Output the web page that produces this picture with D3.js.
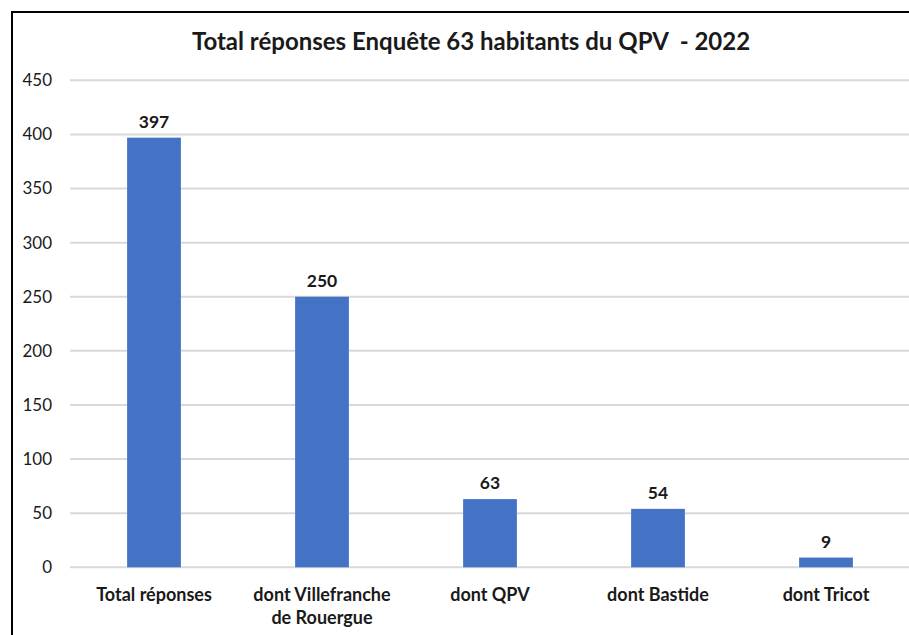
<!DOCTYPE html>
<html>
<head>
<meta charset="utf-8">
<script src="https://cdn.jsdelivr.net/npm/d3@7"></script>
<style>
  html, body { margin: 0; padding: 0; background: #fff; }
  svg { display: block; }
  text { font-family: Lato, "Open Sans", sans-serif; fill: #1a1a1a; }
</style>
</head>
<body>
<script>
// Survey response counts
const categories = [["Total réponses"], ["dont Villefranche", "de Rouergue"], ["dont QPV"], ["dont Bastide"], ["dont Tricot"]];
const values = [397, 250, 63, 54, 9];
const yTicks = [0, 50, 100, 150, 200, 250, 300, 350, 400, 450];
const title = "Total réponses Enquête 63 habitants du QPV  - 2022";

const W = 909, H = 635;
const svg = d3.select("body").append("svg").attr("width", W).attr("height", H);

// Outer frame
svg.append("rect")
  .attr("x", 12).attr("y", 12)
  .attr("width", W).attr("height", H)
  .attr("fill", "none").attr("stroke", "#000").attr("stroke-width", 2);

const plot = { left: 70, right: 910, top: 80.3, bottom: 567.3 };

const x = d3.scaleBand()
  .domain(d3.range(values.length))
  .range([plot.left, plot.right])
  .paddingInner(0.68)
  .paddingOuter(0.34);

const y = d3.scaleLinear()
  .domain([0, 450])
  .range([plot.bottom, plot.top]);

// Gridlines
svg.append("g")
  .selectAll("line")
  .data(yTicks)
  .join("line")
  .attr("x1", plot.left).attr("x2", W)
  .attr("y1", d => y(d)).attr("y2", d => y(d))
  .attr("stroke", "#d9d9d9").attr("stroke-width", 2);

// Y axis labels
const yAxis = d3.axisLeft(y).tickValues(yTicks).tickSize(0).tickPadding(0);
const gy = svg.append("g").attr("transform", "translate(52,0)").call(yAxis);
gy.select(".domain").remove();
gy.selectAll("text")
  .attr("font-size", 17)
  .style("font-family", "Lato, 'Open Sans', sans-serif")
  .attr("fill", "#1a1a1a");

// Bars
svg.append("g")
  .selectAll("rect")
  .data(values)
  .join("rect")
  .attr("x", (d, i) => x(i))
  .attr("width", x.bandwidth())
  .attr("y", d => y(d))
  .attr("height", d => y(0) - y(d))
  .attr("fill", "#4472C4");

// Value labels
svg.append("g")
  .selectAll("text")
  .data(values)
  .join("text")
  .attr("x", (d, i) => x(i) + x.bandwidth() / 2)
  .attr("y", d => y(d) - 10)
  .attr("text-anchor", "middle")
  .attr("font-size", 17.5)
  .attr("font-weight", "bold")
  .text(d => d);

// Category labels
const cat = svg.append("g")
  .selectAll("text")
  .data(categories)
  .join("text")
  .attr("x", (d, i) => x(i) + x.bandwidth() / 2)
  .attr("y", 601)
  .attr("text-anchor", "middle")
  .attr("font-size", 18)
  .attr("font-weight", "bold");
cat.selectAll("tspan")
  .data(d => d)
  .join("tspan")
  .attr("x", function () { return d3.select(this.parentNode).attr("x"); })
  .attr("dy", (d, i) => i === 0 ? 0 : 22.5)
  .text(d => d);

// Title
svg.append("text")
  .attr("x", 471).attr("y", 50)
  .attr("text-anchor", "middle")
  .attr("font-size", 24)
  .attr("font-weight", "bold")
  .style("white-space", "pre")
  .text(title);
</script>
</body>
</html>
